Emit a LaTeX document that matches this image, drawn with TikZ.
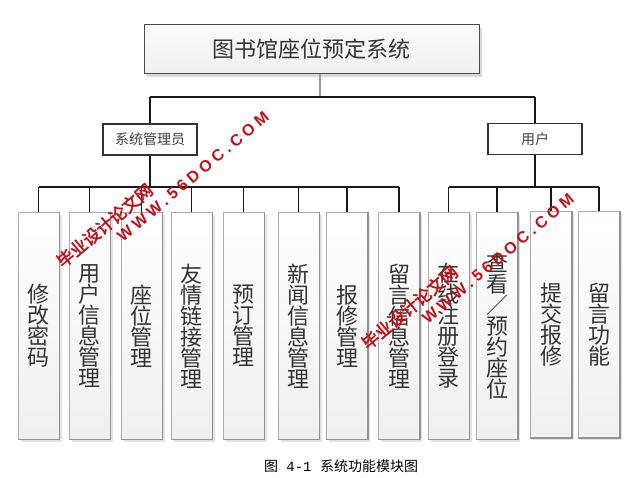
\documentclass[tikz,border=0pt]{standalone}
\usepackage{fontspec}
\setmainfont{Noto Sans CJK SC}
\newfontfamily\wmcjk[FakeBold=2.5]{Noto Sans CJK SC}
\newfontfamily\wmlat[LetterSpace=25]{Liberation Sans}
\newfontfamily\capmono{Liberation Mono}
\usetikzlibrary{shadows}
\definecolor{wmred}{RGB}{192,16,24}
\begin{document}
\begin{tikzpicture}[x=1pt,y=-1pt,
  conn/.style={line width=1.3pt, draw=black!90},
  stem/.style={line width=1.8pt, draw=gray!80},
  titlebox/.style={draw=black!70, line width=1pt, top color=gray!4, bottom color=gray!12,
    minimum width=335pt, minimum height=49pt, inner sep=0pt,
    font=\fontsize{22}{24}\selectfont, text=black!80,
    drop shadow={shadow xshift=3pt, shadow yshift=-3pt, fill=gray!30, opacity=1}},
  rolebox/.style={draw=black!80, line width=1.2pt, fill=white,
    minimum width=94pt, minimum height=31pt, inner sep=0pt,
    font=\fontsize{14}{16}\selectfont, text=black!75},
  modbox/.style={draw=gray!65, line width=1pt, top color=white, bottom color=gray!12,
    minimum width=41pt, minimum height=226pt, inner sep=0pt, align=center,
    font=\fontsize{22}{21}\selectfont, text=black!80,
    drop shadow={shadow xshift=2.5pt, shadow yshift=-2.5pt, fill=gray!22, opacity=1}},
  edgeline/.style={draw=gray!85, line width=1.8pt},
  wmcn/.style={text=wmred, font=\wmcjk\fontsize{17}{17}\selectfont, rotate=40, inner sep=0pt, anchor=south west},
  wmen/.style={text=wmred, font=\wmlat\bfseries\fontsize{16}{16}\selectfont, rotate=40, inner sep=0pt, anchor=south west},
  caption/.style={font=\fontsize{14}{16}\selectfont, text=black}
]
\useasboundingbox (0,0) rectangle (637,478);

% title
\node[titlebox] (title) at (311.5,49.5) {图书馆座位预定系统};

% roles
\node[rolebox] (admin) at (150,139.5) {系统管理员};
\node[rolebox] (user) at (535,139) {用户};

% modules
\node[modbox] (b1) at (38.5,326) {修\\改\\密\\码};
\node[modbox] (b2) at (89.5,326) {用\\户\\信\\息\\管\\理};
\node[modbox] (b3) at (141.5,326) {座\\位\\管\\理};
\node[modbox] (b4) at (191.5,326) {友\\情\\链\\接\\管\\理};
\node[modbox] (b5) at (243.5,326) {预\\订\\管\\理};
\node[modbox] (b6) at (298.5,326) {新\\闻\\信\\息\\管\\理};
\node[modbox] (b7) at (347,326) {报\\修\\管\\理};
\node[modbox] (b8) at (399,326) {留\\言\\信\\息\\管\\理};
\node[modbox] (b9) at (448.5,326) {在\\线\\注\\册\\登\\录};
\node[modbox] (b10) at (497,326) {查\\看\\／\\预\\约\\座\\位};
\node[modbox] (b11) at (551,324.5) {提\\交\\报\\修};
\node[modbox] (b12) at (599,324.5) {留\\言\\功\\能};
\foreach \n in {b1,b2,b3,b4,b5,b6,b7,b8,b9,b10,b11,b12}
  \draw[edgeline] (\n.north east) -- (\n.south east) -- (\n.south west);

% connectors
\coordinate (tbus) at (0,97);
\coordinate (abus) at (0,187);
\draw[stem] ([xshift=8.5pt]title.south) -- ([xshift=8.5pt]title.south |- tbus);
\draw[conn] (admin.north |- tbus) -- (user.north |- tbus);
\draw[conn] (admin.north |- tbus) -- (admin.north);
\draw[conn] (user.north |- tbus) -- (user.north);
\draw[conn] (admin.south) -- (admin.south |- abus);
\draw[conn] (user.south) -- (user.south |- abus);
\draw[conn] (b1.north |- abus) -- (b8.north |- abus);
\draw[conn] (b9.north |- abus) -- (b12.north |- abus);
\foreach \n in {b1,b2,b3,b4,b5,b6,b7,b8,b9,b10,b11,b12}
  \draw[conn] (\n.north |- abus) -- (\n.north);

% caption
\node[caption] (cap) at (341,466) {图{\capmono\ 4-1\ }系统功能模块图};

% watermarks
\node[wmcn] (wm1) at (64,270) {毕业设计论文网};
\node[wmen] (wm2) at (123,243) {WWW.56DOC.COM};
\node[wmcn] (wm3) at (369,352) {毕业设计论文网};
\node[wmen] (wm4) at (428,325) {WWW.56DOC.COM};
\end{tikzpicture}
\end{document}
